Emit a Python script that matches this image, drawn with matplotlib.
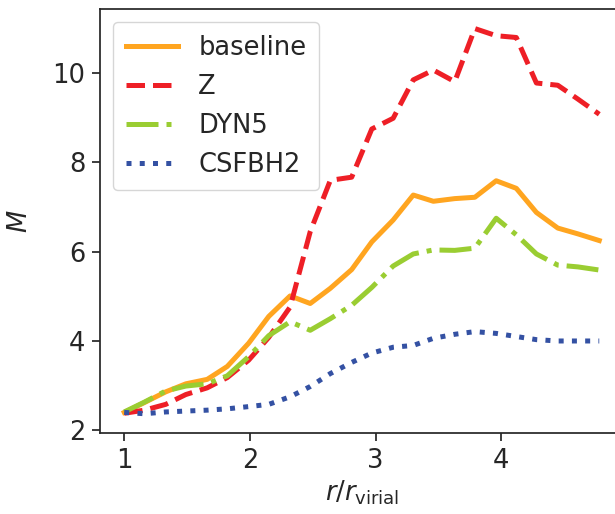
import matplotlib
matplotlib.use("Agg")
import matplotlib.pyplot as plt

# r / r_virial sample positions
r_ratio = [1.00, 1.16, 1.33, 1.49, 1.66, 1.82, 1.99, 2.15, 2.32, 2.48, 2.64, 2.81,
           2.97, 3.14, 3.30, 3.46, 3.63, 3.79, 3.96, 4.12, 4.28, 4.45, 4.61, 4.78]

baseline = [2.40, 2.62, 2.86, 3.04, 3.14, 3.43, 3.95, 4.55, 5.01, 4.84, 5.18, 5.60,
            6.22, 6.71, 7.27, 7.13, 7.19, 7.22, 7.59, 7.42, 6.88, 6.53, 6.40, 6.25]
z_run = [2.38, 2.45, 2.58, 2.80, 2.95, 3.18, 3.57, 4.08, 4.76, 6.45, 7.60, 7.67,
         8.75, 8.99, 9.85, 10.07, 9.81, 11.00, 10.84, 10.80, 9.78, 9.73, 9.42, 9.08]
dyn5 = [2.41, 2.63, 2.88, 2.99, 3.04, 3.22, 3.65, 4.12, 4.43, 4.24, 4.50, 4.80,
        5.20, 5.68, 5.95, 6.04, 6.03, 6.08, 6.75, 6.38, 5.95, 5.70, 5.66, 5.59]
csfbh2 = [2.40, 2.37, 2.41, 2.43, 2.45, 2.48, 2.53, 2.58, 2.75, 2.98, 3.27, 3.52,
          3.73, 3.86, 3.90, 4.06, 4.15, 4.21, 4.17, 4.10, 4.03, 4.00, 4.00, 4.00]

text_color = "#262626"
plt.rcParams.update({
    "font.family": "DejaVu Sans",
    "font.size": 18.5,
    "text.color": text_color,
    "axes.labelcolor": text_color,
    "xtick.color": text_color,
    "ytick.color": text_color,
    "axes.edgecolor": text_color,
    "axes.linewidth": 1.25,
})

fig = plt.figure(figsize=(6.15, 5.14), dpi=100)
ax = fig.add_axes([0.1634, 0.1576, 0.8496, 0.8243])

lw = 3.6
ax.plot(r_ratio, baseline, color="#FFA520", lw=lw, ls="-", label="baseline")
ax.plot(r_ratio, z_run, color="#EE1F26", lw=lw, ls="--", label="Z")
ax.plot(r_ratio, dyn5, color="#9ACD32", lw=lw, ls="-.", label="DYN5")
ax.plot(r_ratio, csfbh2, color="#3451A3", lw=lw, ls=":", label="CSFBH2")

ax.set_xticks([1, 2, 3, 4])
ax.set_yticks([2, 4, 6, 8, 10])
ax.tick_params(direction="out", length=6, width=1.25, labelsize=18.5, pad=5)
ax.set_xlabel(r"$r/r_\mathrm{virial}$", fontsize=18.5, labelpad=3)
ax.set_ylabel(r"$M$", fontsize=18.5, labelpad=14)

ax.legend(loc="upper left", fontsize=18.5, frameon=True, framealpha=0.8,
          edgecolor="#cccccc", handlelength=2.0, borderpad=0.5,
          labelspacing=0.5, handletextpad=0.8)

fig.savefig("out.png", dpi=100)
